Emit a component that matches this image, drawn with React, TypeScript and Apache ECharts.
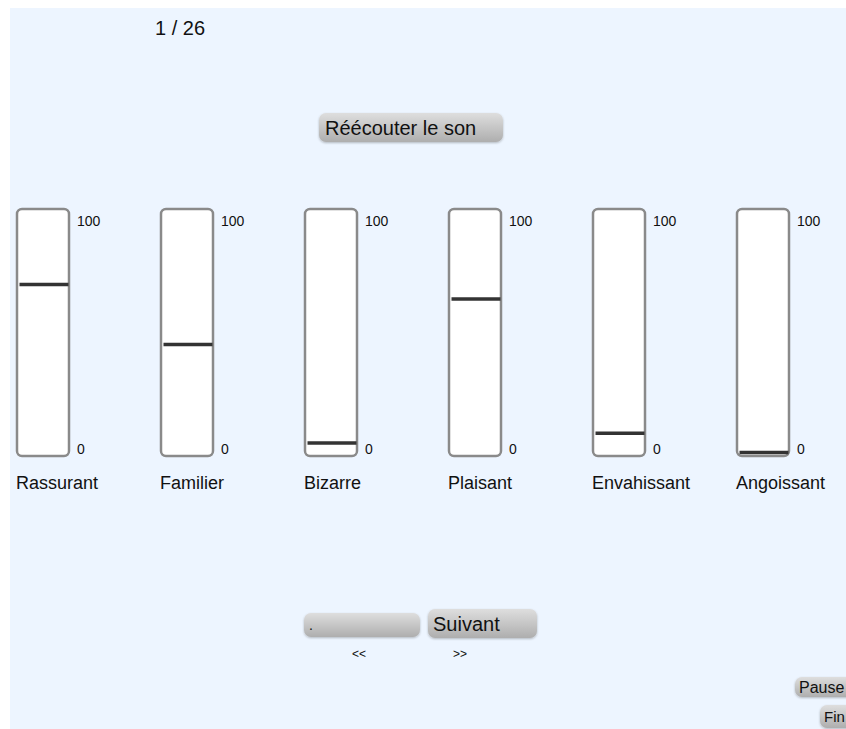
import React, { useEffect, useRef } from "react";
import * as echarts from "echarts";

const categories = ["Rassurant", "Familier", "Bizarre", "Plaisant", "Envahissant", "Angoissant"];
const values = [70, 45, 4, 64, 8, 0];
const scaleMin = 0;
const scaleMax = 100;
const pageLabel = "1 / 26";

const FONT = "'Liberation Sans', Arial, Helvetica, sans-serif";
const STEP = 144;

function button(x: number, y: number, w: number, h: number, label: string, fontSize: number, tx: number) {
  return {
    type: "group",
    z: 1,
    children: [
      {
        type: "rect",
        shape: { x, y, width: w, height: h, r: 7 },
        style: {
          fill: new echarts.graphic.LinearGradient(0, 0, 0, 1, [
            { offset: 0, color: "#dedede" },
            { offset: 1, color: "#aeaeae" },
          ]),
          shadowColor: "rgba(0,0,0,0.25)",
          shadowBlur: 2,
          shadowOffsetY: 1,
        },
      },
      {
        type: "text",
        style: {
          x: tx,
          y: y + h / 2,
          text: label,
          font: `${fontSize}px ${FONT}`,
          fill: "#111",
          align: "left",
          verticalAlign: "middle",
        },
      },
    ],
  };
}

export default function App() {
  const ref = useRef<HTMLDivElement>(null);
  useEffect(() => {
    if (!ref.current) return;
    const chart = echarts.init(ref.current, null, { renderer: "svg" });
    const grids: any[] = [];
    const xAxes: any[] = [];
    const yAxes: any[] = [];
    const series: any[] = [];
    const boxes: any[] = [];
    categories.forEach((name, i) => {
      grids.push({ left: 16 + STEP * i, top: 212.5, width: 56, height: 240 });
      xAxes.push({
        gridIndex: i,
        type: "category",
        data: [name, "", ""],
        boundaryGap: false,
        axisLine: { show: false },
        axisTick: { show: false },
        splitLine: { show: false },
        axisLabel: {
          interval: 0,
          align: "left",
          margin: 21,
          fontSize: 18,
          color: "#111",
          fontFamily: FONT,
        },
      });
      yAxes.push({
        gridIndex: i,
        type: "value",
        min: scaleMin,
        max: scaleMax,
        interval: scaleMax - scaleMin,
        position: "right",
        axisLine: { show: false },
        axisTick: { show: false },
        splitLine: { show: false },
        axisLabel: {
          margin: 5,
          color: "#111",
          fontSize: 14,
          fontFamily: FONT,
          formatter: (v: number) => (v === scaleMax ? `{t|${v}}` : `{b|${v}}`),
          rich: {
            t: { padding: [17, 0, 0, 0], fontSize: 14, fontFamily: FONT, color: "#111" },
            b: { padding: [0, 0, 7, 0], fontSize: 14, fontFamily: FONT, color: "#111" },
          },
        },
      });
      series.push({
        type: "scatter",
        xAxisIndex: i,
        yAxisIndex: i,
        data: [[1, values[i]]],
        symbol: "rect",
        symbolSize: [49, 3.5],
        itemStyle: { color: "#333", opacity: 1 },
        silent: true,
        z: 5,
      });
      boxes.push({
        type: "rect",
        z: 1,
        shape: { x: 17 + STEP * i, y: 209, width: 52, height: 247, r: 5 },
        style: { fill: "#fff", stroke: "#8a8a8a", lineWidth: 2.5 },
      });
    });

    chart.setOption({
      animation: false,
      grid: grids,
      xAxis: xAxes,
      yAxis: yAxes,
      series,
      graphic: [
        {
          type: "rect",
          z: 0,
          shape: { x: 10, y: 8, width: 836, height: 721 },
          style: { fill: "#edf5ff" },
        },
        ...boxes,
        {
          type: "text",
          z: 1,
          style: {
            x: 155,
            y: 28,
            text: pageLabel,
            font: `20px ${FONT}`,
            fill: "#111",
            align: "left",
            verticalAlign: "middle",
          },
        },
        button(319, 113, 184, 29, "Réécouter le son", 20, 325),
        button(304, 613, 116, 24, ".", 14, 309),
        button(428, 609, 109, 29, "Suivant", 20, 433),
        {
          type: "text",
          z: 1,
          style: { x: 352, y: 654, text: "<<", font: `12px ${FONT}`, fill: "#111", align: "left", verticalAlign: "middle" },
        },
        {
          type: "text",
          z: 1,
          style: { x: 453, y: 654, text: ">>", font: `12px ${FONT}`, fill: "#111", align: "left", verticalAlign: "middle" },
        },
        button(795, 677, 70, 20, "Pause", 16, 799),
        button(820, 705, 50, 23, "Fin", 15, 824),
      ],
    });
    return () => chart.dispose();
  }, []);
  return (
    <div
      ref={ref}
      style={{ position: "absolute", left: 0, top: 0, width: 846, height: 729 }}
    />
  );
}
